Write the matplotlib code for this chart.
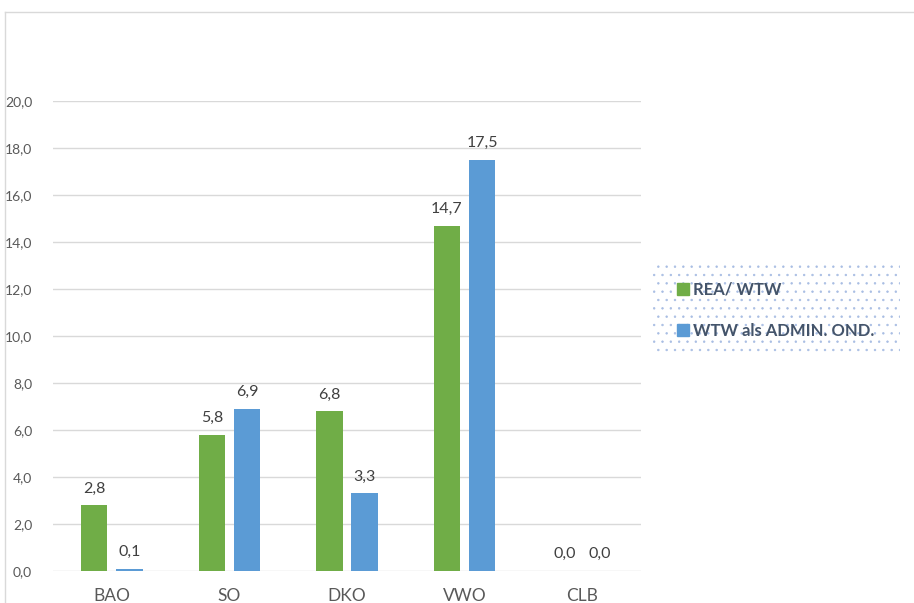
import matplotlib.pyplot as plt
from matplotlib.patches import Rectangle
from matplotlib.lines import Line2D
import numpy as np

categories = ['BAO', 'SO', 'DKO', 'VWO', 'CLB']
rea_wtw = [2.8, 5.8, 6.8, 14.7, 0.0]
wtw_admin = [0.1, 6.9, 3.3, 17.5, 0.0]
series_names = ['REA/ WTW', 'WTW als ADMIN. OND.']
yticks = [0, 2, 4, 6, 8, 10, 12, 14, 16, 18, 20]

plt.rcParams['font.family'] = ['Lato', 'DejaVu Sans']
plt.rcParams['hatch.linewidth'] = 0.5

fig = plt.figure(figsize=(9.14, 6.03), dpi=100)
ax = fig.add_axes([53/914, 32/603, 588/914, 470/603])

x = np.arange(len(categories))
w = 0.225
green = '#70AD47'
blue = '#5B9BD5'
b1 = ax.bar(x - 0.15, rea_wtw, w, color=green, label=series_names[0], zorder=3)
b2 = ax.bar(x + 0.15, wtw_admin, w, color=blue, label=series_names[1], zorder=3)

def fmt(v):
    return f'{v:.1f}'.replace('.', ',')

for bars, vals in [(b1, rea_wtw), (b2, wtw_admin)]:
    for b, v in zip(bars, vals):
        ax.annotate(fmt(v), (b.get_x() + b.get_width()/2, v), xytext=(0, 7),
                    textcoords='offset points', ha='center', va='bottom',
                    fontsize=11.5, color='#404040')

ax.set_xlim(-0.5, 4.5)
ax.set_ylim(0, 20)
ax.set_yticks(yticks)
ax.set_yticklabels([fmt(t) for t in yticks], fontsize=10, color='#595959')
ax.set_xticks(x)
ax.set_xticklabels(categories, fontsize=12.5, color='#595959')
ax.tick_params(axis='both', length=0)
ax.tick_params(axis='x', pad=12)
ax.tick_params(axis='y', pad=15)
ax.grid(axis='y', color='#D9D9D9', linewidth=1, zorder=0)
for s in ax.spines.values():
    s.set_visible(False)

# dotted legend background
fig.patches.append(Rectangle((652/914, 1 - 353/603), 248/914, 88/603,
                             transform=fig.transFigure, facecolor='white',
                             edgecolor='#A8BDE3', hatch='..', linewidth=0,
                             zorder=1))
handles = [Line2D([], [], marker='s', linestyle='', markersize=8, color=green),
           Line2D([], [], marker='s', linestyle='', markersize=8, color=blue)]
leg = fig.legend(handles, series_names, loc='upper left',
                 bbox_to_anchor=(660/914, 1 - 267/603), frameon=False,
                 handletextpad=0.1, labelspacing=1.5, handlelength=1.0,
                 prop={'weight': 'bold', 'size': 12})
for t in leg.get_texts():
    t.set_color('#44546A')

# outer chart frame (partly cropped)
fig.add_artist(Line2D([5/914, 1], [1 - 12/603, 1 - 12/603], transform=fig.transFigure,
                      color='#D9D9D9', linewidth=1))
fig.add_artist(Line2D([5/914, 5/914], [0, 1 - 12/603], transform=fig.transFigure,
                      color='#D9D9D9', linewidth=1))

fig.savefig('out.png', dpi=100)
